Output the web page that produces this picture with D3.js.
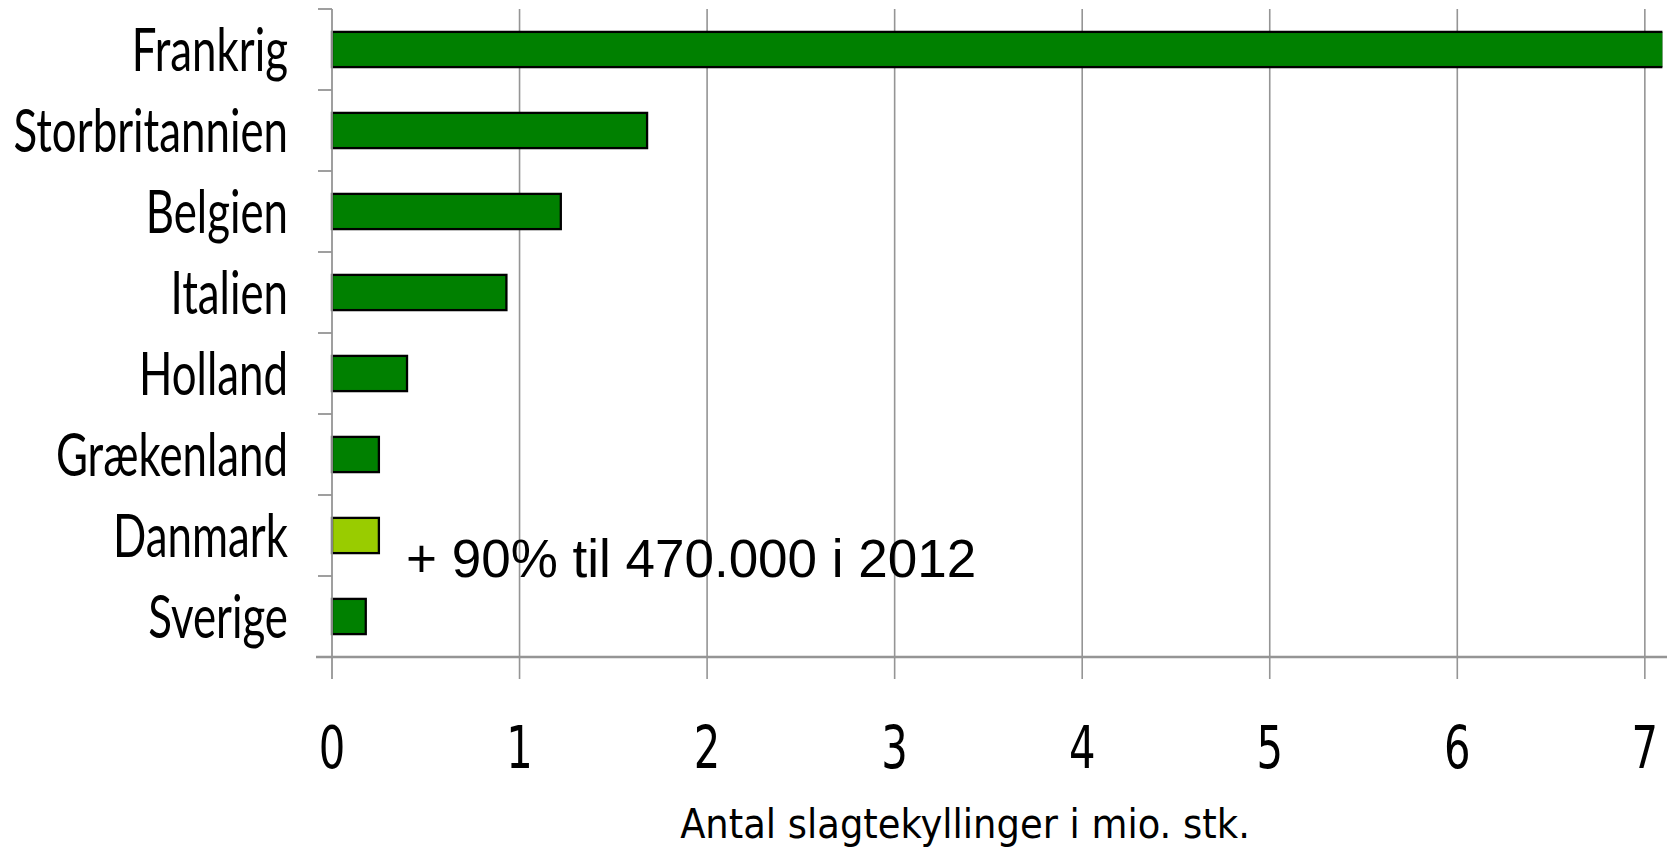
<!DOCTYPE html>
<html><head><meta charset="utf-8">
<script src="https://cdn.jsdelivr.net/npm/d3@7"></script>
<style>body{margin:0;background:#fff}svg{display:block}</style>
</head><body><svg id="c" width="1667" height="848"></svg>
<script>
const categories = ["Frankrig","Storbritannien","Belgien","Italien","Holland","Grækenland","Danmark","Sverige"];
const values = [7.1, 1.68, 1.22, 0.93, 0.40, 0.25, 0.25, 0.18];
const highlighted = ["Danmark"];
const xTicks = [0,1,2,3,4,5,6,7];
const xDomain = [0, 7.1];
const axisTitle = "Antal slagtekyllinger i mio. stk.";
const annotation = "+ 90% til 470.000 i 2012";

const svg = d3.select("#c");
const L = 332, R = 1663.6, T = 9, B = 657;
const x = d3.scaleLinear().domain(xDomain).range([L, R]);
const y = d3.scaleBand().domain(categories).range([T, B]).padding(0);
const step = y.step();
const barH = step / 2.3;
const grid = "#959595";

svg.append("rect").attr("width",1667).attr("height",848).attr("fill","#fff");

// gridlines
svg.append("g").selectAll("line").data(xTicks.filter(d => d > 0)).join("line")
  .attr("x1", d => x(d)).attr("x2", d => x(d))
  .attr("y1", T).attr("y2", B + 22)
  .attr("stroke", grid).attr("stroke-width", 1.6);

// clip (plot area; the longest bar runs past the axis end)
svg.append("clipPath").attr("id","clip").append("rect")
  .attr("x", L - 5).attr("y", 0).attr("width", R - 1.2 - (L - 5)).attr("height", 848);

const data = categories.map((c, i) => ({c, v: values[i]}));
svg.append("g").attr("clip-path","url(#clip)").selectAll("rect").data(data).join("rect")
  .attr("x", x(0)).attr("width", d => x(d.v) - x(0))
  .attr("y", d => y(d.c) + (step - barH) / 2).attr("height", barH)
  .attr("fill", d => highlighted.includes(d.c) ? "#99CC00" : "#008000")
  .attr("stroke", "#000").attr("stroke-width", 2.3);

// y axis line
svg.append("line").attr("x1", L).attr("x2", L).attr("y1", T).attr("y2", B + 22)
  .attr("stroke", grid).attr("stroke-width", 1.8);
// y boundary ticks
const bounds = categories.map(c => y(c));
svg.append("g").selectAll("line").data(bounds).join("line")
  .attr("x1", L - 14).attr("x2", L).attr("y1", d => d).attr("y2", d => d)
  .attr("stroke", grid).attr("stroke-width", 1.8);
// x axis line
svg.append("line").attr("x1", L - 16).attr("x2", 1667).attr("y1", B).attr("y2", B)
  .attr("stroke", grid).attr("stroke-width", 2.4);

// category labels
svg.append("g").selectAll("text").data(categories).join("text")
  .attr("transform", d => `translate(288,${y(d) + step/2 + 21}) scale(0.73,1)`)
  .attr("text-anchor","end")
  .attr("font-family","Lato, sans-serif").attr("font-size", 60)
  .attr("fill","#000").text(d => d);

// tick labels
svg.append("g").selectAll("text").data(xTicks).join("text")
  .attr("transform", d => `translate(${x(d)},768) scale(0.72,1)`)
  .attr("text-anchor","middle")
  .attr("font-family","DejaVu Sans, sans-serif").attr("font-size", 58)
  .attr("fill","#000").text(d => d);

// axis title
svg.append("text").attr("transform","translate(965,838) scale(0.9,1)")
  .attr("text-anchor","middle").attr("font-family","DejaVu Sans, sans-serif")
  .attr("font-size", 41).attr("fill","#000").text(axisTitle);

// annotation
svg.append("text").attr("x", 406).attr("y", 577)
  .attr("font-family","Liberation Sans, Arial, sans-serif").attr("font-size", 53)
  .attr("fill","#000").text(annotation);
</script></body></html>
